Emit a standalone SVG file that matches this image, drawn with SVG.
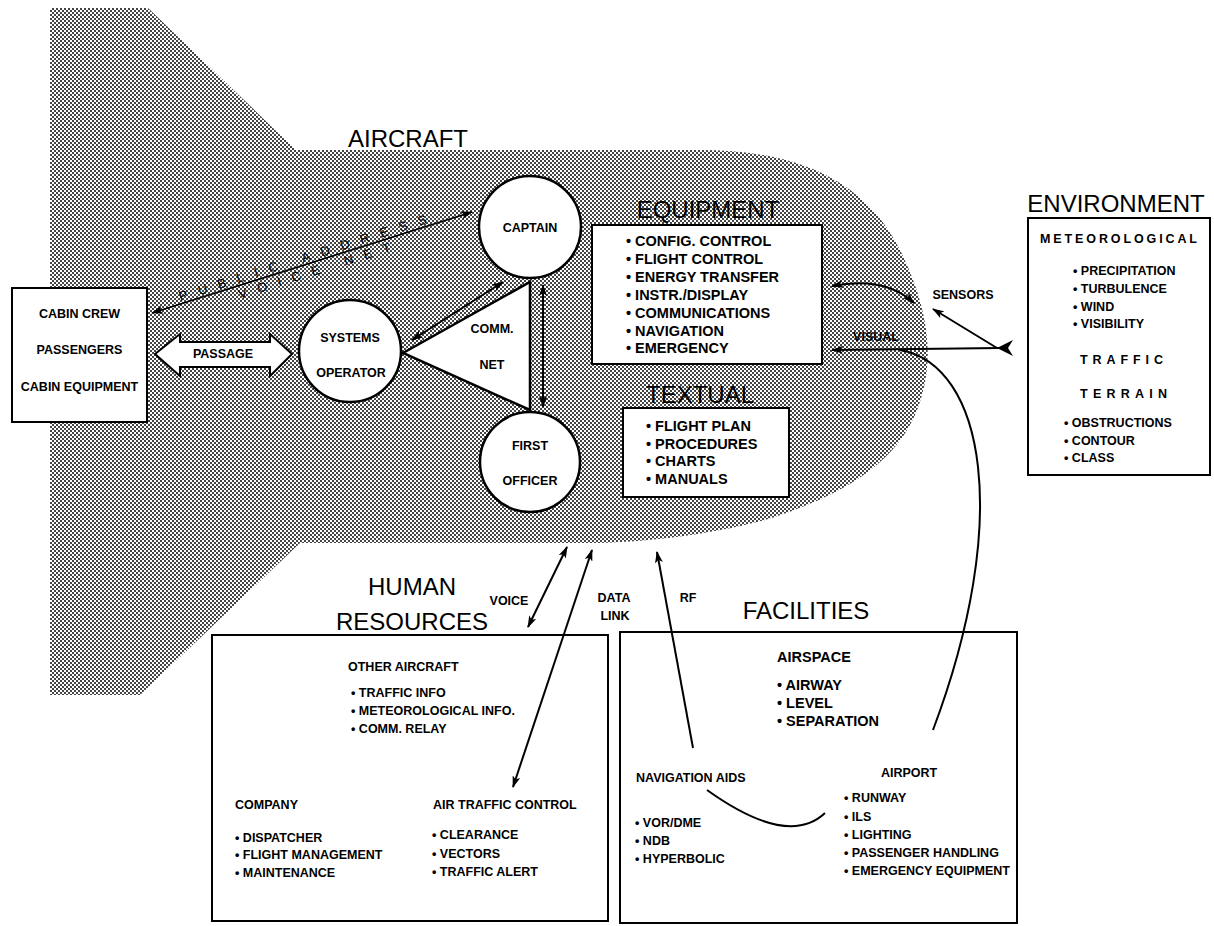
<svg xmlns="http://www.w3.org/2000/svg" width="1214" height="926" viewBox="0 0 1214 926">
<defs>
<pattern id="ht" patternUnits="userSpaceOnUse" width="4" height="4">
<rect width="4" height="4" fill="#fff"/>
<rect x="0" y="0" width="2" height="2" fill="#444"/>
<rect x="2" y="2" width="2" height="2" fill="#444"/>
</pattern>
<marker id="ah" viewBox="0 0 12 8" refX="11" refY="4" markerWidth="12" markerHeight="8" markerUnits="userSpaceOnUse" orient="auto-start-reverse">
<path d="M0,0 L12,4 L0,8 L3,4 z" fill="#000"/>
</marker>
<style>
text{font-family:"Liberation Sans",Arial,sans-serif;fill:#000}
.title{font-size:24px}
.lb{font-size:12.5px;font-weight:bold}
.eq{font-size:14.5px;font-weight:bold}
.sm{font-size:12.5px;font-weight:bold}
.box{fill:#fff;stroke:#000;stroke-width:2}
.node{fill:#fff;stroke:#000;stroke-width:2.5}
.c{fill:none;stroke:#000;stroke-width:2}
.pa{font-size:13px}
</style>
</defs>

<g id="aircraft-shape">
<path d="M50 8 L148 8 L296 150 L700 150 C780 150 860 170 900 250 C925 300 935 350 922 395 C905 460 845 495 765 520 C705 536 640 542 600 543 L300 543 L140 695 L50 695 Z" fill="url(#ht)"/>
<text class="title" x="408" y="147" text-anchor="middle">AIRCRAFT</text>
</g>

<g id="cabin">
<rect class="box" x="12" y="288" width="135" height="134"/>
<text class="lb" x="79.5" y="318" text-anchor="middle">CABIN CREW</text>
<text class="lb" x="79.5" y="354" text-anchor="middle">PASSENGERS</text>
<text class="lb" x="79.5" y="391" text-anchor="middle">CABIN EQUIPMENT</text>
</g>

<g id="passage">
<path class="box" d="M155 354 L180 334 L180 342 L270 342 L270 334 L292 354 L270 376 L270 367 L180 367 L180 376 Z"/>
<text class="lb" x="223" y="358" text-anchor="middle">PASSAGE</text>
</g>

<g id="comm-net">
<path class="node" d="M403 353 L530 282 L530 410 Z"/>
<text class="lb" x="492" y="333" text-anchor="middle">COMM.</text>
<text class="lb" x="492" y="369" text-anchor="middle">NET</text>
</g>

<g id="captain">
<circle class="node" cx="530" cy="227" r="51"/>
<text class="lb" x="530" y="232" text-anchor="middle">CAPTAIN</text>
</g>

<g id="systems-operator">
<circle class="node" cx="350" cy="351" r="51"/>
<text class="lb" x="350" y="342" text-anchor="middle">SYSTEMS</text>
<text class="lb" x="351" y="377" text-anchor="middle">OPERATOR</text>
</g>

<g id="first-officer">
<circle class="node" cx="530" cy="462" r="50"/>
<text class="lb" x="530" y="450" text-anchor="middle">FIRST</text>
<text class="lb" x="530" y="485" text-anchor="middle">OFFICER</text>
</g>

<g id="equipment">
<text class="title" x="708" y="218" text-anchor="middle">EQUIPMENT</text>
<rect class="box" x="592" y="225" width="230" height="139"/>
<text class="eq" x="626" y="246">• CONFIG. CONTROL</text>
<text class="eq" x="626" y="264">• FLIGHT CONTROL</text>
<text class="eq" x="626" y="282">• ENERGY TRANSFER</text>
<text class="eq" x="626" y="300">• INSTR./DISPLAY</text>
<text class="eq" x="626" y="318">• COMMUNICATIONS</text>
<text class="eq" x="626" y="336">• NAVIGATION</text>
<text class="eq" x="626" y="353">• EMERGENCY</text>
</g>

<g id="textual">
<text class="title" x="700" y="403" text-anchor="middle">TEXTUAL</text>
<rect class="box" x="623" y="408" width="166" height="89"/>
<text class="eq" x="646" y="431">• FLIGHT PLAN</text>
<text class="eq" x="646" y="449">• PROCEDURES</text>
<text class="eq" x="646" y="466">• CHARTS</text>
<text class="eq" x="646" y="484">• MANUALS</text>
</g>

<g id="environment">
<text class="title" x="1116" y="212" text-anchor="middle">ENVIRONMENT</text>
<rect class="box" x="1028" y="218" width="182" height="257"/>
<text class="sm" x="1040" y="243" textLength="157" lengthAdjust="spacing">METEOROLOGICAL</text>
<text class="sm" x="1073" y="275">• PRECIPITATION</text>
<text class="sm" x="1073" y="293">• TURBULENCE</text>
<text class="sm" x="1073" y="311">• WIND</text>
<text class="sm" x="1073" y="328">• VISIBILITY</text>
<text class="sm" x="1080" y="364" textLength="83" lengthAdjust="spacing">TRAFFIC</text>
<text class="sm" x="1080" y="398" textLength="87" lengthAdjust="spacing">TERRAIN</text>
<text class="sm" x="1064" y="427">• OBSTRUCTIONS</text>
<text class="sm" x="1064" y="445">• CONTOUR</text>
<text class="sm" x="1064" y="462">• CLASS</text>
</g>

<g id="human-resources">
<text class="title" x="412" y="595" text-anchor="middle">HUMAN</text>
<text class="title" x="412" y="630" text-anchor="middle">RESOURCES</text>
<rect class="box" x="212" y="635" width="396" height="286"/>
<text class="sm" x="348" y="671">OTHER AIRCRAFT</text>
<text class="sm" x="351" y="697">• TRAFFIC INFO</text>
<text class="sm" x="351" y="715">• METEOROLOGICAL INFO.</text>
<text class="sm" x="351" y="733">• COMM. RELAY</text>
<text class="sm" x="235" y="809">COMPANY</text>
<text class="sm" x="235" y="842">• DISPATCHER</text>
<text class="sm" x="235" y="859">• FLIGHT MANAGEMENT</text>
<text class="sm" x="235" y="877">• MAINTENANCE</text>
<text class="sm" x="433" y="809">AIR TRAFFIC CONTROL</text>
<text class="sm" x="432" y="839">• CLEARANCE</text>
<text class="sm" x="432" y="858">• VECTORS</text>
<text class="sm" x="432" y="876">• TRAFFIC ALERT</text>
</g>

<g id="facilities">
<text class="title" x="806" y="619" text-anchor="middle">FACILITIES</text>
<rect class="box" x="620" y="632" width="397" height="291"/>
<text class="eq" x="777" y="662">AIRSPACE</text>
<text class="eq" x="777" y="690">• AIRWAY</text>
<text class="eq" x="777" y="708">• LEVEL</text>
<text class="eq" x="777" y="726">• SEPARATION</text>
<text class="sm" x="636" y="782">NAVIGATION AIDS</text>
<text class="sm" x="635" y="827">• VOR/DME</text>
<text class="sm" x="635" y="845">• NDB</text>
<text class="sm" x="635" y="863">• HYPERBOLIC</text>
<text class="sm" x="881" y="777">AIRPORT</text>
<text class="sm" x="844" y="802">• RUNWAY</text>
<text class="sm" x="844" y="821">• ILS</text>
<text class="sm" x="844" y="839">• LIGHTING</text>
<text class="sm" x="844" y="857">• PASSENGER HANDLING</text>
<text class="sm" x="844" y="875">• EMERGENCY EQUIPMENT</text>
</g>

<g id="connectors">
<path class="c" style="stroke-width:1.6" d="M152 313 L472 212" marker-start="url(#ah)" marker-end="url(#ah)"/>
<text class="pa" transform="translate(181,303) rotate(-17.5)" x="0" y="-2" textLength="259" lengthAdjust="spacing">PUBLIC ADDRESS</text>
<text class="pa" transform="translate(236,286.5) rotate(-17.5)" x="0" y="13" textLength="159" lengthAdjust="spacing">VOICE NET</text>
<path class="c" d="M412 340 L503 282" marker-start="url(#ah)" marker-end="url(#ah)"/>
<path class="c" d="M543 285 L543 407" marker-start="url(#ah)" marker-end="url(#ah)"/>
<path class="c" d="M832 286 Q885 276 914 303" marker-start="url(#ah)" marker-end="url(#ah)"/>
<path class="c" d="M1000 348 L832 350" marker-end="url(#ah)"/>
<path class="c" d="M997 348 L933 309" marker-end="url(#ah)"/>
<path d="M997 348 L1013 340 L1008 348 L1013 356 Z" fill="#000"/>
<path class="c" d="M900 350 C985 365 1012 520 933 730"/>
<path class="c" d="M693 748 L657 552" marker-end="url(#ah)"/>
<path class="c" d="M528 627 L567 547" marker-start="url(#ah)" marker-end="url(#ah)"/>
<path class="c" d="M513 787 L592 550" marker-start="url(#ah)" marker-end="url(#ah)"/>
<path class="c" d="M707 790 Q788 848 825 813"/>
<text class="lb" x="963" y="299" text-anchor="middle">SENSORS</text>
<text class="lb" x="876" y="341" text-anchor="middle">VISUAL</text>
<text class="lb" x="509" y="605" text-anchor="middle">VOICE</text>
<text class="lb" x="614" y="602" text-anchor="middle">DATA</text>
<text class="lb" x="615" y="620" text-anchor="middle">LINK</text>
<text class="lb" x="688" y="602" text-anchor="middle">RF</text>
</g>
</svg>
